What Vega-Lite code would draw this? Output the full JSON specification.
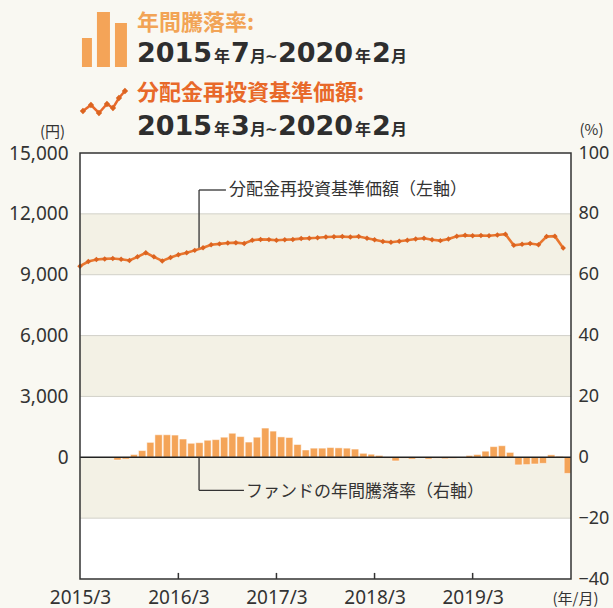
{
  "$schema": "https://vega.github.io/schema/vega-lite/v6.json",
  "width": 491,
  "height": 426,
  "autosize": {"type": "none"},
  "padding": {"left": 80, "top": 153, "right": 42, "bottom": 29},
  "background": "#f9f8f2",
  "config": {"view": {"stroke": null, "fill": "#ffffff"}, "font": "Noto Sans"},
  "data": {"values": [{}]},
  "datasets": {
    "nav": [
      {"date": "2015-03-01", "v": 9420}, {"date": "2015-04-01", "v": 9650}, {"date": "2015-05-01", "v": 9750}, {"date": "2015-06-01", "v": 9780},
      {"date": "2015-07-01", "v": 9800}, {"date": "2015-08-01", "v": 9760}, {"date": "2015-09-01", "v": 9700}, {"date": "2015-10-01", "v": 9880},
      {"date": "2015-11-01", "v": 10080}, {"date": "2015-12-01", "v": 9880}, {"date": "2016-01-01", "v": 9680}, {"date": "2016-02-01", "v": 9850},
      {"date": "2016-03-01", "v": 9980}, {"date": "2016-04-01", "v": 10080}, {"date": "2016-05-01", "v": 10200}, {"date": "2016-06-01", "v": 10330},
      {"date": "2016-07-01", "v": 10480}, {"date": "2016-08-01", "v": 10520}, {"date": "2016-09-01", "v": 10560}, {"date": "2016-10-01", "v": 10580},
      {"date": "2016-11-01", "v": 10540}, {"date": "2016-12-01", "v": 10700}, {"date": "2017-01-01", "v": 10740}, {"date": "2017-02-01", "v": 10730},
      {"date": "2017-03-01", "v": 10700}, {"date": "2017-04-01", "v": 10720}, {"date": "2017-05-01", "v": 10740}, {"date": "2017-06-01", "v": 10780},
      {"date": "2017-07-01", "v": 10800}, {"date": "2017-08-01", "v": 10820}, {"date": "2017-09-01", "v": 10860}, {"date": "2017-10-01", "v": 10870},
      {"date": "2017-11-01", "v": 10880}, {"date": "2017-12-01", "v": 10860}, {"date": "2018-01-01", "v": 10880}, {"date": "2018-02-01", "v": 10800},
      {"date": "2018-03-01", "v": 10720}, {"date": "2018-04-01", "v": 10640}, {"date": "2018-05-01", "v": 10600}, {"date": "2018-06-01", "v": 10650},
      {"date": "2018-07-01", "v": 10700}, {"date": "2018-08-01", "v": 10760}, {"date": "2018-09-01", "v": 10800}, {"date": "2018-10-01", "v": 10720},
      {"date": "2018-11-01", "v": 10680}, {"date": "2018-12-01", "v": 10760}, {"date": "2019-01-01", "v": 10900}, {"date": "2019-02-01", "v": 10940},
      {"date": "2019-03-01", "v": 10920}, {"date": "2019-04-01", "v": 10930}, {"date": "2019-05-01", "v": 10920}, {"date": "2019-06-01", "v": 10960},
      {"date": "2019-07-01", "v": 11000}, {"date": "2019-08-01", "v": 10450}, {"date": "2019-09-01", "v": 10500}, {"date": "2019-10-01", "v": 10540},
      {"date": "2019-11-01", "v": 10480}, {"date": "2019-12-01", "v": 10880}, {"date": "2020-01-01", "v": 10900}, {"date": "2020-02-01", "v": 10320}
    ],
    "ret": [
      {"date": "2015-07-01", "r": -0.9}, {"date": "2015-08-01", "r": -0.6}, {"date": "2015-09-01", "r": 0.9}, {"date": "2015-10-01", "r": 2.2},
      {"date": "2015-11-01", "r": 4.9}, {"date": "2015-12-01", "r": 7.4}, {"date": "2016-01-01", "r": 7.4}, {"date": "2016-02-01", "r": 7.3},
      {"date": "2016-03-01", "r": 6.0}, {"date": "2016-04-01", "r": 4.6}, {"date": "2016-05-01", "r": 4.8}, {"date": "2016-06-01", "r": 5.6},
      {"date": "2016-07-01", "r": 5.8}, {"date": "2016-08-01", "r": 6.6}, {"date": "2016-09-01", "r": 7.9}, {"date": "2016-10-01", "r": 6.8},
      {"date": "2016-11-01", "r": 5.0}, {"date": "2016-12-01", "r": 6.6}, {"date": "2017-01-01", "r": 9.6}, {"date": "2017-02-01", "r": 8.6},
      {"date": "2017-03-01", "r": 6.7}, {"date": "2017-04-01", "r": 6.5}, {"date": "2017-05-01", "r": 4.2}, {"date": "2017-06-01", "r": 2.4},
      {"date": "2017-07-01", "r": 3.0}, {"date": "2017-08-01", "r": 3.0}, {"date": "2017-09-01", "r": 3.2}, {"date": "2017-10-01", "r": 3.1},
      {"date": "2017-11-01", "r": 3.0}, {"date": "2017-12-01", "r": 2.7}, {"date": "2018-01-01", "r": 1.3}, {"date": "2018-02-01", "r": 1.0},
      {"date": "2018-03-01", "r": 0.6}, {"date": "2018-04-01", "r": -0.3}, {"date": "2018-05-01", "r": -1.2}, {"date": "2018-06-01", "r": -0.3},
      {"date": "2018-07-01", "r": -0.6}, {"date": "2018-08-01", "r": -0.2}, {"date": "2018-09-01", "r": -0.6}, {"date": "2018-10-01", "r": -0.3},
      {"date": "2018-11-01", "r": -0.5}, {"date": "2018-12-01", "r": -0.4}, {"date": "2019-01-01", "r": -0.2}, {"date": "2019-02-01", "r": 0.6},
      {"date": "2019-03-01", "r": 0.9}, {"date": "2019-04-01", "r": 2.0}, {"date": "2019-05-01", "r": 3.5}, {"date": "2019-06-01", "r": 3.8},
      {"date": "2019-07-01", "r": 1.6}, {"date": "2019-08-01", "r": -2.5}, {"date": "2019-09-01", "r": -2.4}, {"date": "2019-10-01", "r": -2.2},
      {"date": "2019-11-01", "r": -2.0}, {"date": "2019-12-01", "r": 0.8}, {"date": "2020-01-01", "r": 0.3}, {"date": "2020-02-01", "r": -5.3}
    ],
    "bands": [{"lo": 60, "hi": 80}, {"lo": 20, "hi": 40}, {"lo": -20, "hi": 0}],
    "grid": [{"g": -20}, {"g": 20}, {"g": 40}, {"g": 60}, {"g": 80}],
    "ticks": [{"d": "2016-03-01"}, {"d": "2017-03-01"}, {"d": "2018-03-01"}, {"d": "2019-03-01"}]
  },
  "resolve": {"scale": {"y": "independent"}, "axis": {"x": "independent", "y": "independent"}},
  "layer": [
    {
      "data": {"name": "bands"},
      "mark": {"type": "rect", "color": "#f3f1e5"},
      "encoding": {
        "y": {"field": "lo", "type": "quantitative", "scale": {"domain": [-40, 100], "nice": false, "zero": false}, "axis": null},
        "y2": {"field": "hi"}
      }
    },
    {
      "data": {"name": "grid"},
      "mark": {"type": "rule", "color": "#d2d1c9", "strokeWidth": 1},
      "encoding": {
        "y": {"field": "g", "type": "quantitative", "scale": {"domain": [-40, 100], "nice": false, "zero": false}, "axis": null}
      }
    },
    {
      "data": {"name": "ret"},
      "mark": {"type": "bar", "color": "#f4a458", "stroke": "#ffffff", "strokeWidth": 0.5},
      "encoding": {
        "x": {"field": "date", "timeUnit": "utcyearmonth", "type": "temporal", "scale": {"type": "utc", "domain": [{"year": 2015, "month": 3, "date": 1, "utc": true}, {"year": 2020, "month": 3, "date": 1, "utc": true}], "nice": false},
          "axis": {"orient": "bottom", "values": [{"year": 2015, "month": 3, "date": 1, "utc": true}, {"year": 2016, "month": 3, "date": 1, "utc": true}, {"year": 2017, "month": 3, "date": 1, "utc": true}, {"year": 2018, "month": 3, "date": 1, "utc": true}, {"year": 2019, "month": 3, "date": 1, "utc": true}],
            "format": "%Y/%-m", "labelFontSize": 19, "labelColor": "#333333", "labelPadding": 9, "labelFlush": false, "ticks": false, "domain": false, "grid": false,
            "title": "(年/月)", "titleX": 495, "titleY": 19, "titleAlign": "center", "titleBaseline": "middle", "titleFontSize": 15, "titleFontWeight": "normal", "titleColor": "#333333", "titleFont": "Noto Sans CJK JP"}},
        "y": {"field": "r", "type": "quantitative", "scale": {"domain": [-40, 100], "nice": false, "zero": false},
          "axis": {"orient": "right", "values": [-40, -20, 0, 20, 40, 60, 80, 100], "labelFontSize": 18, "labelColor": "#333333", "labelPadding": 7, "ticks": false, "domain": false, "grid": false,
            "title": "(%)", "titleAngle": 0, "titleX": 20, "titleY": -24, "titleAlign": "center", "titleBaseline": "middle", "titleFontSize": 15, "titleFontWeight": "normal", "titleColor": "#333333", "titleFont": "Noto Sans CJK JP"}}
      }
    },
    {
      "mark": {"type": "rule", "color": "#222222", "strokeWidth": 1.5},
      "encoding": {
        "y": {"datum": 0, "type": "quantitative", "scale": {"domain": [-6000, 15000], "nice": false, "zero": false},
          "axis": {"orient": "left", "values": [0, 3000, 6000, 9000, 12000, 15000], "format": ",.0f", "labelFontSize": 19, "labelColor": "#333333", "labelPadding": 12, "ticks": false, "domain": false, "grid": false,
            "title": "(円)", "titleAngle": 0, "titleX": -28, "titleY": -22, "titleAlign": "center", "titleBaseline": "middle", "titleFontSize": 15, "titleFontWeight": "normal", "titleColor": "#333333", "titleFont": "Noto Sans CJK JP"}}
      }
    },
    {
      "data": {"name": "ticks"},
      "mark": {"type": "rule", "color": "#333333", "strokeWidth": 1.5},
      "encoding": {
        "x": {"field": "d", "type": "temporal", "scale": {"type": "utc", "domain": [{"year": 2015, "month": 3, "date": 1, "utc": true}, {"year": 2020, "month": 3, "date": 1, "utc": true}], "nice": false}, "axis": null},
        "y": {"datum": -6000, "type": "quantitative", "scale": {"domain": [-6000, 15000], "nice": false, "zero": false}, "axis": null},
        "y2": {"datum": -5700}
      }
    },
    {
      "mark": {"type": "rule", "color": "#333333", "strokeWidth": 1.3},
      "encoding": {
        "x": {"datum": {"year": 2016, "month": 5, "date": 17, "utc": true}, "type": "temporal", "scale": {"type": "utc", "domain": [{"year": 2015, "month": 3, "date": 1, "utc": true}, {"year": 2020, "month": 3, "date": 1, "utc": true}], "nice": false}, "axis": null},
        "y": {"datum": 10240, "type": "quantitative", "scale": {"domain": [-6000, 15000], "nice": false, "zero": false}, "axis": null},
        "y2": {"datum": 13176}
      }
    },
    {
      "mark": {"type": "rule", "color": "#333333", "strokeWidth": 1.3},
      "encoding": {
        "x": {"datum": {"year": 2016, "month": 5, "date": 17, "utc": true}, "type": "temporal", "scale": {"type": "utc", "domain": [{"year": 2015, "month": 3, "date": 1, "utc": true}, {"year": 2020, "month": 3, "date": 1, "utc": true}], "nice": false}, "axis": null},
        "x2": {"datum": {"year": 2016, "month": 8, "date": 25, "utc": true}},
        "y": {"datum": 13176, "type": "quantitative", "scale": {"domain": [-6000, 15000], "nice": false, "zero": false}, "axis": null}
      }
    },
    {
      "mark": {"type": "rule", "color": "#333333", "strokeWidth": 1.3},
      "encoding": {
        "x": {"datum": {"year": 2016, "month": 5, "date": 17, "utc": true}, "type": "temporal", "scale": {"type": "utc", "domain": [{"year": 2015, "month": 3, "date": 1, "utc": true}, {"year": 2020, "month": 3, "date": 1, "utc": true}], "nice": false}, "axis": null},
        "y": {"datum": 0, "type": "quantitative", "scale": {"domain": [-6000, 15000], "nice": false, "zero": false}, "axis": null},
        "y2": {"datum": -1627}
      }
    },
    {
      "mark": {"type": "rule", "color": "#333333", "strokeWidth": 1.3},
      "encoding": {
        "x": {"datum": {"year": 2016, "month": 5, "date": 17, "utc": true}, "type": "temporal", "scale": {"type": "utc", "domain": [{"year": 2015, "month": 3, "date": 1, "utc": true}, {"year": 2020, "month": 3, "date": 1, "utc": true}], "nice": false}, "axis": null},
        "x2": {"datum": {"year": 2016, "month": 10, "date": 31, "utc": true}},
        "y": {"datum": -1627, "type": "quantitative", "scale": {"domain": [-6000, 15000], "nice": false, "zero": false}, "axis": null}
      }
    },
    {
      "mark": {"type": "text", "text": "分配金再投資基準価額（左軸）", "font": "Noto Sans CJK JP", "fontSize": 17, "color": "#333333", "align": "left", "baseline": "middle"},
      "encoding": {
        "x": {"datum": {"year": 2016, "month": 9, "date": 5, "utc": true}, "type": "temporal", "scale": {"type": "utc", "domain": [{"year": 2015, "month": 3, "date": 1, "utc": true}, {"year": 2020, "month": 3, "date": 1, "utc": true}], "nice": false}, "axis": null},
        "y": {"datum": 13176, "type": "quantitative", "scale": {"domain": [-6000, 15000], "nice": false, "zero": false}, "axis": null}
      }
    },
    {
      "mark": {"type": "text", "text": "ファンドの年間騰落率（右軸）", "font": "Noto Sans CJK JP", "fontSize": 17, "color": "#333333", "align": "left", "baseline": "middle"},
      "encoding": {
        "x": {"datum": {"year": 2016, "month": 11, "date": 8, "utc": true}, "type": "temporal", "scale": {"type": "utc", "domain": [{"year": 2015, "month": 3, "date": 1, "utc": true}, {"year": 2020, "month": 3, "date": 1, "utc": true}], "nice": false}, "axis": null},
        "y": {"datum": -1700, "type": "quantitative", "scale": {"domain": [-6000, 15000], "nice": false, "zero": false}, "axis": null}
      }
    },
    {
      "data": {"name": "nav"},
      "mark": {"type": "line", "color": "#e9772f", "strokeWidth": 2.6},
      "encoding": {
        "x": {"field": "date", "type": "temporal", "scale": {"type": "utc", "domain": [{"year": 2015, "month": 3, "date": 1, "utc": true}, {"year": 2020, "month": 3, "date": 1, "utc": true}], "nice": false}, "axis": null},
        "y": {"field": "v", "type": "quantitative", "scale": {"domain": [-6000, 15000], "nice": false, "zero": false}, "axis": null}
      }
    },
    {
      "data": {"name": "nav"},
      "mark": {"type": "point", "shape": "diamond", "filled": true, "size": 30, "color": "#dc6420", "opacity": 1},
      "encoding": {
        "x": {"field": "date", "type": "temporal", "scale": {"type": "utc", "domain": [{"year": 2015, "month": 3, "date": 1, "utc": true}, {"year": 2020, "month": 3, "date": 1, "utc": true}], "nice": false}, "axis": null},
        "y": {"field": "v", "type": "quantitative", "scale": {"domain": [-6000, 15000], "nice": false, "zero": false}, "axis": null}
      }
    },
    {
      "mark": {"type": "rect", "filled": false, "color": "#333333", "strokeWidth": 1.5},
      "encoding": {
        "y": {"datum": -6000, "type": "quantitative", "scale": {"domain": [-6000, 15000], "nice": false, "zero": false}, "axis": null},
        "y2": {"datum": 15000}
      }
    },
    {
      "mark": {"type": "point", "shape": "M-0.818,1V-0.055H-0.455V1Z M-0.273,1V-1H0.2V1Z M0.382,1V-0.6H0.818V1Z", "size": 3025, "filled": true, "color": "#f4a458", "opacity": 1},
      "encoding": {
        "x": {"datum": {"year": 2015, "month": 5, "date": 31, "utc": true}, "type": "temporal", "scale": {"type": "utc", "domain": [{"year": 2015, "month": 3, "date": 1, "utc": true}, {"year": 2020, "month": 3, "date": 1, "utc": true}], "nice": false}, "axis": null},
        "y": {"datum": 20595, "type": "quantitative", "scale": {"domain": [-6000, 15000], "nice": false, "zero": false}, "axis": null}
      }
    },
    {
      "mark": {"type": "point", "shape": "M-0.956,0.356L-0.6,0.089L-0.244,0.444L0.111,0.044L0.378,0.222L0.644,-0.222L0.911,-0.533", "size": 2025, "filled": false, "color": "#e86a2c", "strokeWidth": 2.5, "opacity": 1},
      "encoding": {
        "x": {"datum": {"year": 2015, "month": 5, "date": 31, "utc": true}, "type": "temporal", "scale": {"type": "utc", "domain": [{"year": 2015, "month": 3, "date": 1, "utc": true}, {"year": 2020, "month": 3, "date": 1, "utc": true}], "nice": false}, "axis": null},
        "y": {"datum": 17465, "type": "quantitative", "scale": {"domain": [-6000, 15000], "nice": false, "zero": false}, "axis": null}
      }
    },
    {
      "mark": {"type": "point", "shape": "M-0.956,0.216L-0.816,0.356L-0.956,0.496L-1.096,0.356Z M-0.6,-0.051L-0.46,0.089L-0.6,0.229L-0.74,0.089Z M-0.244,0.304L-0.104,0.444L-0.244,0.584L-0.384,0.444Z M0.111,-0.096L0.251,0.044L0.111,0.184L-0.029,0.044Z M0.378,0.082L0.518,0.222L0.378,0.362L0.238,0.222Z M0.644,-0.362L0.784,-0.222L0.644,-0.082L0.504,-0.222Z M0.911,-0.673L1.051,-0.533L0.911,-0.393L0.771,-0.533Z", "size": 2025, "filled": true, "color": "#dc6420", "opacity": 1},
      "encoding": {
        "x": {"datum": {"year": 2015, "month": 5, "date": 31, "utc": true}, "type": "temporal", "scale": {"type": "utc", "domain": [{"year": 2015, "month": 3, "date": 1, "utc": true}, {"year": 2020, "month": 3, "date": 1, "utc": true}], "nice": false}, "axis": null},
        "y": {"datum": 17465, "type": "quantitative", "scale": {"domain": [-6000, 15000], "nice": false, "zero": false}, "axis": null}
      }
    },
    {
      "mark": {"type": "text", "text": "年間騰落率:", "font": "Noto Sans CJK JP", "fontSize": 22, "fontWeight": "bold", "color": "#f2a456", "align": "left", "baseline": "alphabetic"},
      "encoding": {
        "x": {"datum": {"year": 2015, "month": 9, "date": 29, "utc": true}, "type": "temporal", "scale": {"type": "utc", "domain": [{"year": 2015, "month": 3, "date": 1, "utc": true}, {"year": 2020, "month": 3, "date": 1, "utc": true}], "nice": false}, "axis": null},
        "y": {"datum": 21088, "type": "quantitative", "scale": {"domain": [-6000, 15000], "nice": false, "zero": false}, "axis": null}
      }
    },
    {
      "mark": {"type": "text", "text": "分配金再投資基準価額:", "font": "Noto Sans CJK JP", "fontSize": 22, "fontWeight": "bold", "color": "#e8692a", "align": "left", "baseline": "alphabetic"},
      "encoding": {
        "x": {"datum": {"year": 2015, "month": 9, "date": 29, "utc": true}, "type": "temporal", "scale": {"type": "utc", "domain": [{"year": 2015, "month": 3, "date": 1, "utc": true}, {"year": 2020, "month": 3, "date": 1, "utc": true}], "nice": false}, "axis": null},
        "y": {"datum": 17637, "type": "quantitative", "scale": {"domain": [-6000, 15000], "nice": false, "zero": false}, "axis": null}
      }
    },
    {
      "mark": {"type": "text", "text": ["2015", "2015"], "lineHeight": 73, "dx": 0, "font": "DejaVu Sans", "fontSize": 27, "fontWeight": "bold", "color": "#2e2e2e", "align": "left", "baseline": "alphabetic"},
      "encoding": {
        "x": {"datum": {"year": 2015, "month": 9, "date": 29, "utc": true}, "type": "temporal", "scale": {"type": "utc", "domain": [{"year": 2015, "month": 3, "date": 1, "utc": true}, {"year": 2020, "month": 3, "date": 1, "utc": true}], "nice": false}, "axis": null},
        "y": {"datum": 19486, "type": "quantitative", "scale": {"domain": [-6000, 15000], "nice": false, "zero": false}, "axis": null}
      }
    },
    {
      "mark": {"type": "text", "text": ["年", "年"], "lineHeight": 73, "dx": 77, "font": "Noto Sans CJK JP", "fontSize": 16, "fontWeight": "bold", "color": "#2e2e2e", "align": "left", "baseline": "alphabetic"},
      "encoding": {
        "x": {"datum": {"year": 2015, "month": 9, "date": 29, "utc": true}, "type": "temporal", "scale": {"type": "utc", "domain": [{"year": 2015, "month": 3, "date": 1, "utc": true}, {"year": 2020, "month": 3, "date": 1, "utc": true}], "nice": false}, "axis": null},
        "y": {"datum": 19486, "type": "quantitative", "scale": {"domain": [-6000, 15000], "nice": false, "zero": false}, "axis": null}
      }
    },
    {
      "mark": {"type": "text", "text": ["7", "3"], "lineHeight": 73, "dx": 94, "font": "DejaVu Sans", "fontSize": 27, "fontWeight": "bold", "color": "#2e2e2e", "align": "left", "baseline": "alphabetic"},
      "encoding": {
        "x": {"datum": {"year": 2015, "month": 9, "date": 29, "utc": true}, "type": "temporal", "scale": {"type": "utc", "domain": [{"year": 2015, "month": 3, "date": 1, "utc": true}, {"year": 2020, "month": 3, "date": 1, "utc": true}], "nice": false}, "axis": null},
        "y": {"datum": 19486, "type": "quantitative", "scale": {"domain": [-6000, 15000], "nice": false, "zero": false}, "axis": null}
      }
    },
    {
      "mark": {"type": "text", "text": ["月", "月"], "lineHeight": 73, "dx": 113, "font": "Noto Sans CJK JP", "fontSize": 16, "fontWeight": "bold", "color": "#2e2e2e", "align": "left", "baseline": "alphabetic"},
      "encoding": {
        "x": {"datum": {"year": 2015, "month": 9, "date": 29, "utc": true}, "type": "temporal", "scale": {"type": "utc", "domain": [{"year": 2015, "month": 3, "date": 1, "utc": true}, {"year": 2020, "month": 3, "date": 1, "utc": true}], "nice": false}, "axis": null},
        "y": {"datum": 19486, "type": "quantitative", "scale": {"domain": [-6000, 15000], "nice": false, "zero": false}, "axis": null}
      }
    },
    {
      "mark": {"type": "text", "text": ["~", "~"], "lineHeight": 73, "dx": 128, "font": "DejaVu Sans", "fontSize": 15, "fontWeight": "bold", "color": "#2e2e2e", "align": "left", "baseline": "alphabetic"},
      "encoding": {
        "x": {"datum": {"year": 2015, "month": 9, "date": 29, "utc": true}, "type": "temporal", "scale": {"type": "utc", "domain": [{"year": 2015, "month": 3, "date": 1, "utc": true}, {"year": 2020, "month": 3, "date": 1, "utc": true}], "nice": false}, "axis": null},
        "y": {"datum": 19486, "type": "quantitative", "scale": {"domain": [-6000, 15000], "nice": false, "zero": false}, "axis": null}
      }
    },
    {
      "mark": {"type": "text", "text": ["2020", "2020"], "lineHeight": 73, "dx": 141, "font": "DejaVu Sans", "fontSize": 27, "fontWeight": "bold", "color": "#2e2e2e", "align": "left", "baseline": "alphabetic"},
      "encoding": {
        "x": {"datum": {"year": 2015, "month": 9, "date": 29, "utc": true}, "type": "temporal", "scale": {"type": "utc", "domain": [{"year": 2015, "month": 3, "date": 1, "utc": true}, {"year": 2020, "month": 3, "date": 1, "utc": true}], "nice": false}, "axis": null},
        "y": {"datum": 19486, "type": "quantitative", "scale": {"domain": [-6000, 15000], "nice": false, "zero": false}, "axis": null}
      }
    },
    {
      "mark": {"type": "text", "text": ["年", "年"], "lineHeight": 73, "dx": 218, "font": "Noto Sans CJK JP", "fontSize": 16, "fontWeight": "bold", "color": "#2e2e2e", "align": "left", "baseline": "alphabetic"},
      "encoding": {
        "x": {"datum": {"year": 2015, "month": 9, "date": 29, "utc": true}, "type": "temporal", "scale": {"type": "utc", "domain": [{"year": 2015, "month": 3, "date": 1, "utc": true}, {"year": 2020, "month": 3, "date": 1, "utc": true}], "nice": false}, "axis": null},
        "y": {"datum": 19486, "type": "quantitative", "scale": {"domain": [-6000, 15000], "nice": false, "zero": false}, "axis": null}
      }
    },
    {
      "mark": {"type": "text", "text": ["2", "2"], "lineHeight": 73, "dx": 235, "font": "DejaVu Sans", "fontSize": 27, "fontWeight": "bold", "color": "#2e2e2e", "align": "left", "baseline": "alphabetic"},
      "encoding": {
        "x": {"datum": {"year": 2015, "month": 9, "date": 29, "utc": true}, "type": "temporal", "scale": {"type": "utc", "domain": [{"year": 2015, "month": 3, "date": 1, "utc": true}, {"year": 2020, "month": 3, "date": 1, "utc": true}], "nice": false}, "axis": null},
        "y": {"datum": 19486, "type": "quantitative", "scale": {"domain": [-6000, 15000], "nice": false, "zero": false}, "axis": null}
      }
    },
    {
      "mark": {"type": "text", "text": ["月", "月"], "lineHeight": 73, "dx": 254, "font": "Noto Sans CJK JP", "fontSize": 16, "fontWeight": "bold", "color": "#2e2e2e", "align": "left", "baseline": "alphabetic"},
      "encoding": {
        "x": {"datum": {"year": 2015, "month": 9, "date": 29, "utc": true}, "type": "temporal", "scale": {"type": "utc", "domain": [{"year": 2015, "month": 3, "date": 1, "utc": true}, {"year": 2020, "month": 3, "date": 1, "utc": true}], "nice": false}, "axis": null},
        "y": {"datum": 19486, "type": "quantitative", "scale": {"domain": [-6000, 15000], "nice": false, "zero": false}, "axis": null}
      }
    }
  ]
}
